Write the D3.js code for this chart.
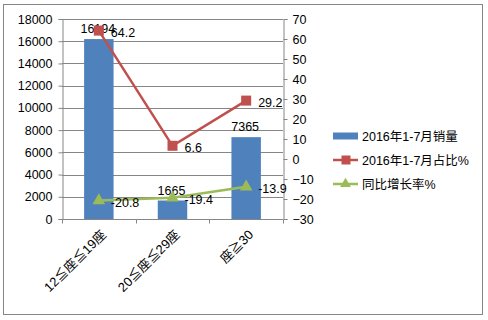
<!DOCTYPE html>
<html>
<head>
<meta charset="utf-8">
<script src="https://cdn.jsdelivr.net/npm/d3@7"></script>
<style>
	body { margin: 0; background: #fff; }
	text { font-family: "Liberation Sans", "Noto Sans CJK SC", sans-serif; font-size: 12px; fill: #000; }
</style>
</head>
<body>
<div id="chart"></div>
<script>
// data
const categories = ["12≦座≦19座", "20≦座≦29座", "座≧30"];
const sales = [16194, 1665, 7365];
const share = [64.2, 6.6, 29.2];
const growth = [-20.8, -19.4, -13.9];
const leftTicks = [0, 2000, 4000, 6000, 8000, 10000, 12000, 14000, 16000, 18000];
const rightTicks = [-30, -20, -10, 0, 10, 20, 30, 40, 50, 60, 70];
const seriesNames = ["2016年1-7月销量", "2016年1-7月占比%", "同比增长率%"];

const width = 488, height = 320;
const margin = {top: 19, right: 205, bottom: 101, left: 62};
const blue = "#4f81bd", red = "#c0504d", green = "#9bbb59", axisCol = "#868686";

let svg = d3.select("#chart")
	.append("svg")
	.attr("width", width)
	.attr("height", height);

// outer frame
svg.append("rect")
	.attr("x", 3.5).attr("y", 4.5)
	.attr("width", 479).attr("height", 310)
	.attr("fill", "none")
	.attr("stroke", axisCol);

let x = d3.scaleBand()
	.domain(categories)
	.range([margin.left, width - margin.right]);

let y = d3.scaleLinear()
	.domain([0, 18000])
	.range([height - margin.bottom, margin.top]);

let y2 = d3.scaleLinear()
	.domain([-30, 70])
	.range([height - margin.bottom, margin.top]);

const cx = d => x(d) + x.bandwidth() / 2;

// gridlines
svg.append("g")
	.selectAll("line")
	.data(leftTicks.slice(1))
	.join("line")
	.attr("x1", margin.left).attr("x2", width - margin.right)
	.attr("y1", d => Math.round(y(d)) + 0.5).attr("y2", d => Math.round(y(d)) + 0.5)
	.attr("stroke", axisCol);

// left axis
svg.append("g")
	.attr("transform", `translate(${margin.left + 0.5},0)`)
	.call(d3.axisLeft(y).tickValues(leftTicks).tickSize(4).tickPadding(6).tickFormat(d3.format("d")))
	.call(g => g.selectAll("path, line").attr("stroke", axisCol))
	.call(g => g.selectAll("text").style("font-size", "12.5px"));

// right axis
svg.append("g")
	.attr("transform", `translate(${width - margin.right + 0.5},0)`)
	.call(d3.axisRight(y2).tickValues(rightTicks).tickSize(4).tickPadding(5))
	.call(g => g.selectAll("path, line").attr("stroke", axisCol))
	.call(g => g.selectAll("text").style("font-size", "12.5px"));

// bottom axis
let gx = svg.append("g")
	.attr("transform", `translate(0,${height - margin.bottom + 0.5})`);
gx.append("line")
	.attr("x1", margin.left).attr("x2", width - margin.right)
	.attr("stroke", axisCol);
gx.selectAll(".tk")
	.data(categories.concat(["end"]))
	.join("line")
	.attr("class", "tk")
	.attr("x1", (d, i) => Math.round(i < categories.length ? x(d) : width - margin.right) + 0.5)
	.attr("x2", (d, i) => Math.round(i < categories.length ? x(d) : width - margin.right) + 0.5)
	.attr("y1", 0).attr("y2", 4)
	.attr("stroke", axisCol);
gx.selectAll(".lbl")
	.data(categories)
	.join("text")
	.attr("class", "lbl")
	.attr("text-anchor", "end")
	.attr("transform", d => `translate(${cx(d) + 8},${16}) rotate(-45)`)
	.style("font-size", "13px")
	.text(d => d);

// bars
const barW = x.bandwidth() * 0.4;
svg.append("g")
	.selectAll("rect")
	.data(sales)
	.join("rect")
	.attr("x", (d, i) => cx(categories[i]) - barW / 2)
	.attr("y", d => y(d))
	.attr("width", barW)
	.attr("height", d => y(0) - y(d))
	.attr("fill", blue);

svg.append("g")
	.selectAll("text")
	.data(sales)
	.join("text")
	.attr("x", (d, i) => cx(categories[i]) - 1)
	.attr("y", d => y(d) - 6)
	.attr("text-anchor", "middle")
	.style("font-size", "12.5px")
	.text(d => d);

// lines
let line = d3.line()
	.x((d, i) => cx(categories[i]))
	.y(d => y2(d));

svg.append("path")
	.datum(share)
	.attr("d", line)
	.attr("fill", "none")
	.attr("stroke", red)
	.attr("stroke-width", 2.5);

svg.append("g")
	.selectAll("rect")
	.data(share)
	.join("rect")
	.attr("x", (d, i) => cx(categories[i]) - 5)
	.attr("y", d => y2(d) - 5)
	.attr("width", 10).attr("height", 10)
	.attr("fill", red);

svg.append("path")
	.datum(growth)
	.attr("d", line)
	.attr("fill", "none")
	.attr("stroke", green)
	.attr("stroke-width", 2.5);

const tri = d3.symbol().type(d3.symbolTriangle).size(70);
svg.append("g")
	.selectAll("path")
	.data(growth)
	.join("path")
	.attr("transform", (d, i) => `translate(${cx(categories[i])},${y2(d)})`)
	.attr("d", tri)
	.attr("fill", green);

// point labels, to the right of each marker
[share, growth].forEach(series => {
	svg.append("g")
		.selectAll("text")
		.data(series)
		.join("text")
		.attr("x", (d, i) => cx(categories[i]) + 12)
		.attr("y", d => y2(d) + 6)
		.style("font-size", "12.5px")
		.text(d => d);
});

// legend
let legend = svg.append("g")
	.attr("transform", "translate(333,136)");
const rowGap = 24;
legend.append("rect")
	.attr("x", 0).attr("y", -3.5)
	.attr("width", 25).attr("height", 7)
	.attr("fill", blue);
legend.append("line")
	.attr("x1", 0).attr("x2", 25)
	.attr("y1", rowGap).attr("y2", rowGap)
	.attr("stroke", red).attr("stroke-width", 2.5);
legend.append("rect")
	.attr("x", 8.5).attr("y", rowGap - 4.5)
	.attr("width", 9).attr("height", 9)
	.attr("fill", red);
legend.append("line")
	.attr("x1", 0).attr("x2", 25)
	.attr("y1", rowGap * 2).attr("y2", rowGap * 2)
	.attr("stroke", green).attr("stroke-width", 2.5);
legend.append("path")
	.attr("transform", `translate(12.5,${rowGap * 2})`)
	.attr("d", d3.symbol().type(d3.symbolTriangle).size(50))
	.attr("fill", green);
legend.selectAll(".lt")
	.data(seriesNames)
	.join("text")
	.attr("class", "lt")
	.attr("x", 29)
	.attr("y", (d, i) => i * rowGap + 5)
	.style("font-size", "12.5px")
	.text(d => d);
</script>
</body>
</html>
